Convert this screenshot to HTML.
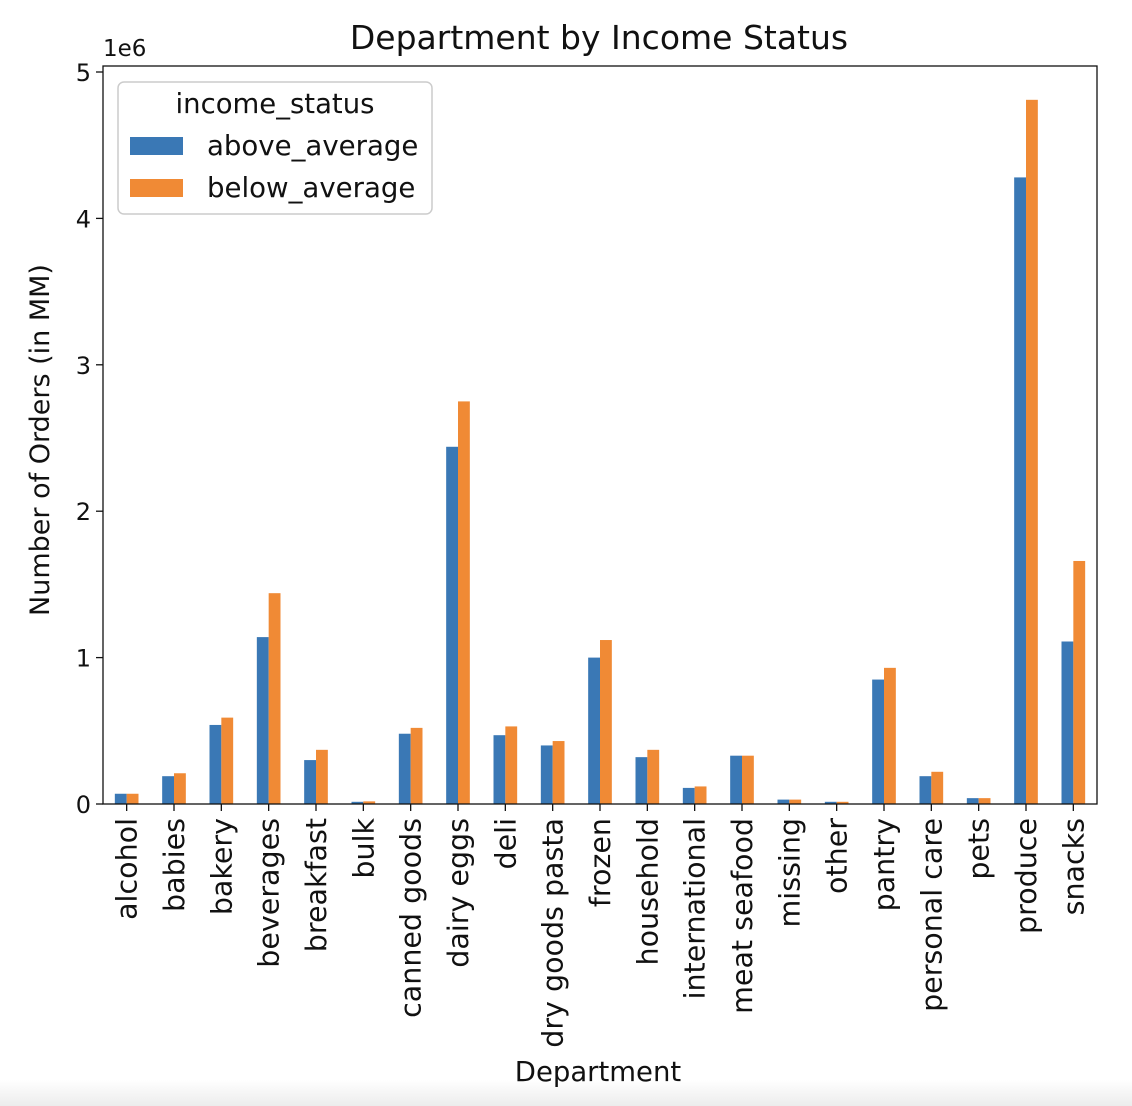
<!DOCTYPE html>
<html><head><meta charset="utf-8"><style>
html,body{margin:0;padding:0;background:#fff;}
svg{display:block;font-family:"DejaVu Sans","Liberation Sans",sans-serif;}
</style></head><body>
<svg id="chart" width="1132" height="1106" viewBox="0 0 1132 1106">
<defs><linearGradient id="fade" x1="0" y1="0" x2="0" y2="1"><stop offset="0" stop-color="#fff"/><stop offset="1" stop-color="#ececec"/></linearGradient></defs>
<rect x="0" y="1080" width="1132" height="26" fill="url(#fade)"/>
<text x="599" y="49" font-size="33" text-anchor="middle" fill="#111">Department by Income Status</text>
<text x="103" y="56" font-size="23" fill="#111">1e6</text>
<text transform="translate(49,440) rotate(-90)" font-size="27" text-anchor="middle" fill="#111">Number of Orders (in MM)</text>
<text x="598" y="1081" font-size="27.5" text-anchor="middle" fill="#111">Department</text>
<g id="bars"></g><g id="axes"></g>
<g>
<rect x="118" y="82" width="314" height="132" rx="6" fill="#fff" fill-opacity="0.85" stroke="#ccc" stroke-width="1.5"/>
<text x="275" y="113" font-size="27.5" text-anchor="middle" fill="#111">income_status</text>
<rect x="130" y="137" width="53" height="18" fill="#3a78b5"/>
<text x="207" y="155" font-size="27.6" fill="#111">above_average</text>
<rect x="130" y="179" width="53" height="18" fill="#f08a35"/>
<text x="207" y="197" font-size="27.6" fill="#111">below_average</text>
</g>
</svg>
<script>
const categories=["alcohol","babies","bakery","beverages","breakfast","bulk","canned goods","dairy eggs","deli","dry goods pasta","frozen","household","international","meat seafood","missing","other","pantry","personal care","pets","produce","snacks"];
const aboveAverage=[0.07,0.19,0.54,1.14,0.30,0.015,0.48,2.44,0.47,0.40,1.00,0.32,0.11,0.33,0.03,0.015,0.85,0.19,0.04,4.28,1.11];
const belowAverage=[0.07,0.21,0.59,1.44,0.37,0.018,0.52,2.75,0.53,0.43,1.12,0.37,0.12,0.33,0.03,0.015,0.93,0.22,0.04,4.81,1.66];
const yTicks=[0,1,2,3,4,5];
const NS="http://www.w3.org/2000/svg";
const L=103,R=1097,T=66,B=804;
const step=(R-L)/categories.length;
const xC=i=>L+step*(i+0.5);
const yS=v=>B-v*146.4;
function mk(tag,attrs,parent){const e=document.createElementNS(NS,tag);for(const k in attrs)e.setAttribute(k,attrs[k]);parent.appendChild(e);return e;}
const bars=document.getElementById('bars'),axes=document.getElementById('axes');
const bw=step*0.25;
categories.forEach((c,i)=>{
 const a=mk('rect',{x:xC(i)-bw,y:yS(aboveAverage[i]),width:bw,height:B-yS(aboveAverage[i]),fill:'#3a78b5'},bars);
 
 
 const b=mk('rect',{x:xC(i),y:yS(belowAverage[i]),width:bw,height:B-yS(belowAverage[i]),fill:'#f08a35'},bars);
 
 
 mk('line',{x1:xC(i),x2:xC(i),y1:B,y2:B+7,stroke:'#111','stroke-width':1.3},axes);
 const t=mk('text',{transform:`translate(${xC(i)+10},${B+14}) rotate(-90)`,'font-size':28.5,'text-anchor':'end',fill:'#111'},axes);
 t.textContent=c;
 
 
});
yTicks.forEach(v=>{
 mk('line',{x1:L-7,x2:L,y1:yS(v),y2:yS(v),stroke:'#111','stroke-width':1.3},axes);
 const t=mk('text',{x:L-12,y:yS(v)+9,'font-size':24,'text-anchor':'end',fill:'#111'},axes);
 t.textContent=v;
 
 
});
const fr=mk('rect',{x:L,y:T,width:R-L,height:B-T,fill:'none',stroke:'#111','stroke-width':1.3},axes);


</script>
</body></html>
